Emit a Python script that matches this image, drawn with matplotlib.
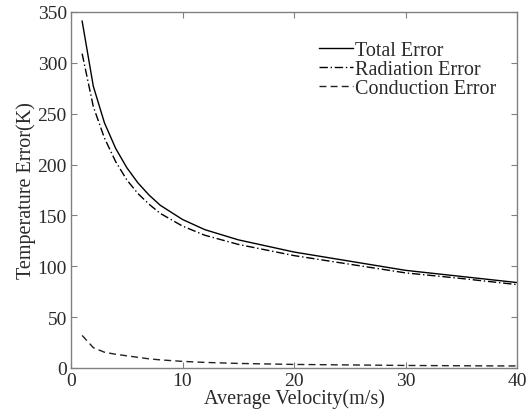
import matplotlib.pyplot as plt

plt.rcParams['font.family'] = 'Liberation Serif'

# Data
velocity = [1, 2, 3, 4, 5, 6, 7, 8, 10, 12, 15, 20, 25, 30, 35, 40]
total_error = [341, 277, 241, 216, 197, 182, 170, 160, 146, 136, 126, 114, 105, 96, 90, 84]
radiation_error = [309, 257, 226, 203, 185, 171.5, 161, 152, 139.5, 130.5, 121.5, 110.5, 102, 93.5, 88, 82]
conduction_error = [32, 20, 15.5, 13.5, 12, 10.5, 9, 8, 6.5, 5.5, 4.5, 3.5, 3, 2.5, 2.2, 2]

fig = plt.figure(figsize=(5.31, 4.14), dpi=100)
ax = fig.add_axes([0.1337, 0.1087, 0.84, 0.86])

ax.plot(velocity, total_error, '-', color='black', lw=1.0, label='Total Error')
ax.plot(velocity, radiation_error, '-.', color='black', lw=1.0, label='Radiation Error',
        dashes=(6, 2, 1, 2))
ax.plot(velocity, conduction_error, '--', color='#222222', lw=1.0, label='Conduction Error',
        dashes=(5, 3))

ax.set_xlim(0, 40)
ax.set_ylim(0, 350)
ax.set_xticks([0, 10, 20, 30, 40])
ax.set_yticks(range(0, 351, 50))
ax.tick_params(direction='in', top=True, right=True, length=4, width=0.8,
               colors='#808080', labelcolor='#2a2a2a', labelsize=14, pad=3)
for s in ax.spines.values():
    s.set_color('#808080')
    s.set_linewidth(1.0)

ax.set_xlabel('Average Velocity(m/s)', fontsize=14.5, color='#2a2a2a', labelpad=-1)
ax.set_ylabel('Temperature Error(K)', fontsize=14.5, color='#2a2a2a', labelpad=1)

ax.legend(loc='upper right', bbox_to_anchor=(0.995, 0.97), frameon=False, fontsize=14.5,
          handlelength=1.7, handletextpad=0.1, labelspacing=0.0, labelcolor='#2a2a2a')

fig.savefig('out.png', dpi=100)
